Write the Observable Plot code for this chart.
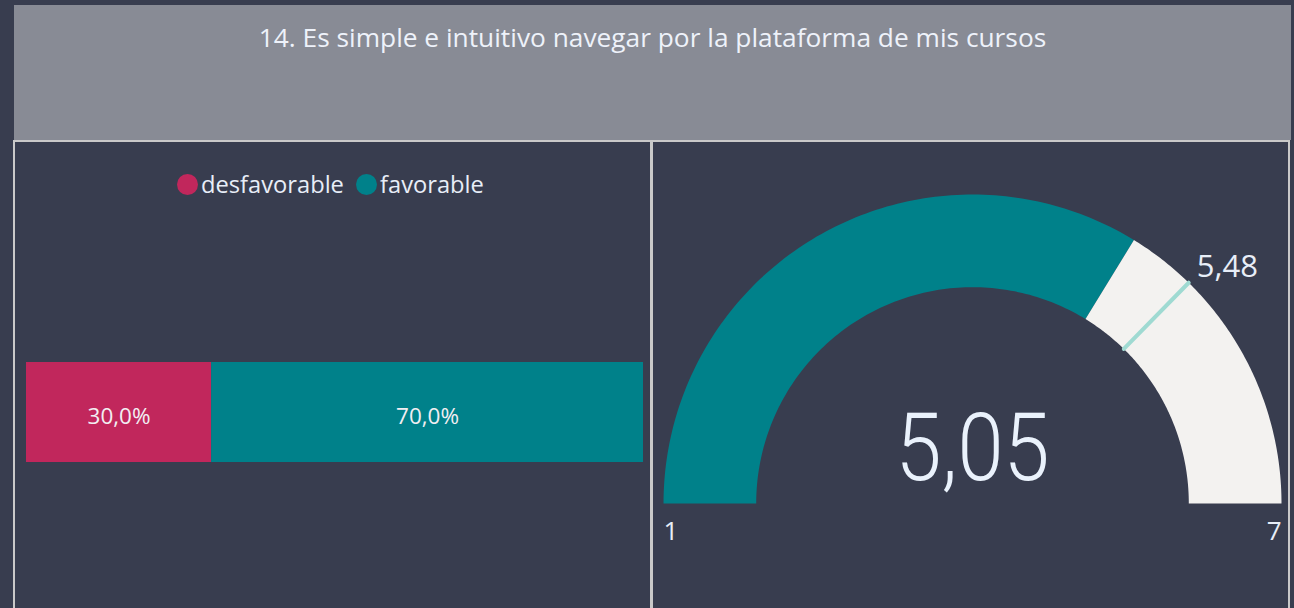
<!DOCTYPE html>
<html>
<head>
<meta charset="utf-8">
<script src="https://cdn.jsdelivr.net/npm/d3@7"></script>
<script src="https://cdn.jsdelivr.net/npm/@observablehq/plot@0.6"></script>
<style>
  html, body { margin: 0; padding: 0; }
  body { width: 1294px; height: 608px; background: #383d4f; position: relative; overflow: hidden;
         font-family: "Open Sans", "Noto Sans", sans-serif; color: #e8eef8; }
  #title { position: absolute; left: 14px; top: 5px; width: 1277px; height: 135px; background: #888b95;
           text-align: center; font-size: 26.3px; line-height: 1; padding-top: 19px; box-sizing: border-box; color: #eef2fa; }
  .panel { position: absolute; top: 140px; height: 480px; border: 2px solid #c9c9c9; box-sizing: border-box; }
  #left { left: 13px; width: 640px; }
  #right { left: 650px; width: 640px; }
  #legend { position: absolute; left: 0; top: 169px; width: 1294px; }
  .item { position: absolute; top: 0; display: flex; align-items: center; font-size: 23.7px; line-height: 30px; color: #e8eef8; }
  .dot { width: 21px; height: 21px; border-radius: 50%; margin-right: 3px; }
  .chart { position: absolute; }
</style>
</head>
<body>
<div id="title"></div>
<div class="panel" id="left"></div>
<div class="panel" id="right"></div>
<div id="legend"></div>
<div class="chart" id="bar" style="left:14px; top:141px;"></div>
<div class="chart" id="gauge" style="left:652px; top:141px;"></div>
<script>
// ---------- data ----------
const titleText = "14. Es simple e intuitivo navegar por la plataforma de mis cursos";
const categories = ["desfavorable", "favorable"];
const shares = [0.30, 0.70];
const categoryColors = ["#c1275c", "#00818a"];
const gaugeMin = 1;
const gaugeMax = 7;
const gaugeValue = 5.05;
const gaugeTarget = 5.48;

const es = d3.formatLocale({decimal: ",", thousands: ".", grouping: [3], currency: ["", " €"]});
const pct = es.format(".1%");
const num = es.format(".2f");

document.getElementById("title").textContent = titleText;

// ---------- legend ----------
const legend = document.getElementById("legend");
const legendX = [177, 356];
categories.forEach((c, i) => {
  const it = document.createElement("div");
  it.className = "item";
  it.style.left = legendX[i] + "px";
  const dot = document.createElement("div");
  dot.className = "dot";
  dot.style.background = categoryColors[i];
  it.appendChild(dot);
  const t = document.createElement("span");
  t.textContent = c;
  it.appendChild(t);
  legend.appendChild(it);
});

// ---------- stacked bar ----------
const barData = categories.map((c, i) => ({category: c, share: shares[i], q: "q"}));
const bar = Plot.plot({
  width: 638,
  height: 467,
  marginLeft: 12,
  marginRight: 9,
  marginTop: 221,
  marginBottom: 146,
  style: {background: "transparent", fontFamily: "'Open Sans', sans-serif"},
  x: {domain: [0, 1], axis: null},
  y: {domain: ["q"], axis: null, padding: 0},
  color: {domain: categories, range: categoryColors},
  marks: [
    Plot.barX(barData, Plot.stackX({x: "share", y: "q", fill: "category", inset: 0})),
    Plot.text(barData, Plot.stackX({x: "share", y: "q", z: "category", text: d => pct(d.share),
      fill: "#f2eef2", fontSize: 22.5, dy: 4}))
  ]
});
document.getElementById("bar").appendChild(bar);

// ---------- gauge ----------
const inner = 0.7;
function sector(from, to, seg) {
  const n = 120, pts = [];
  const a = v => Math.PI * (1 - (v - gaugeMin) / (gaugeMax - gaugeMin));
  for (let i = 0; i <= n; i++) {
    const t = a(from + (to - from) * i / n);
    pts.push({seg, x: Math.cos(t), y: Math.sin(t)});
  }
  for (let i = n; i >= 0; i--) {
    const t = a(from + (to - from) * i / n);
    pts.push({seg, x: inner * Math.cos(t), y: inner * Math.sin(t)});
  }
  return pts;
}
const arcs = [...sector(gaugeMin, gaugeValue, "value"), ...sector(gaugeValue, gaugeMax, "rest")];
const tAng = Math.PI * (1 - (gaugeTarget - gaugeMin) / (gaugeMax - gaugeMin));
const targetLine = [
  {x: inner * Math.cos(tAng), y: inner * Math.sin(tAng)},
  {x: Math.cos(tAng), y: Math.sin(tAng)}
];
const gauge = Plot.plot({
  width: 636,
  height: 467,
  marginLeft: 11,
  marginRight: 7,
  marginTop: 53,
  marginBottom: 105,
  style: {background: "transparent", fontFamily: "'Open Sans', sans-serif", overflow: "visible"},
  x: {domain: [-1, 1], axis: null},
  y: {domain: [0, 1], axis: null},
  marks: [
    Plot.line(arcs, {x: "x", y: "y", z: "seg", fill: d => d.seg === "value" ? "#00818a" : "#f3f2f0", stroke: null, curve: "linear"}),
    Plot.line(targetLine, {x: "x", y: "y", stroke: "#9fdad2", strokeWidth: 4}),
    Plot.text([gaugeTarget], {x: Math.cos(tAng), y: Math.sin(tAng), text: d => num(d), textAnchor: "start", dx: 8, dy: -16, fontSize: 31, fill: "#e8eef8"}),
    Plot.text([gaugeMin], {x: -1, y: 0, text: d => String(d), textAnchor: "start", dy: 28, fontSize: 26, fill: "#e8eef8"}),
    Plot.text([gaugeMax], {x: 1, y: 0, text: d => String(d), textAnchor: "end", dy: 28, fontSize: 26, fill: "#e8eef8"}),
    Plot.text([gaugeValue], {x: 0, y: 0, text: d => num(d), dy: -54, fontSize: 94, fontWeight: 300, fill: "#eaf2fc", fontFamily: "Roboto"})
  ]
});
gauge.querySelectorAll("text").forEach(t => {
  if (t.textContent === num(gaugeValue)) {
    t.setAttribute("textLength", 154);
    t.setAttribute("lengthAdjust", "spacingAndGlyphs");
  }
});
document.getElementById("gauge").appendChild(gauge);
</script>
</body>
</html>
